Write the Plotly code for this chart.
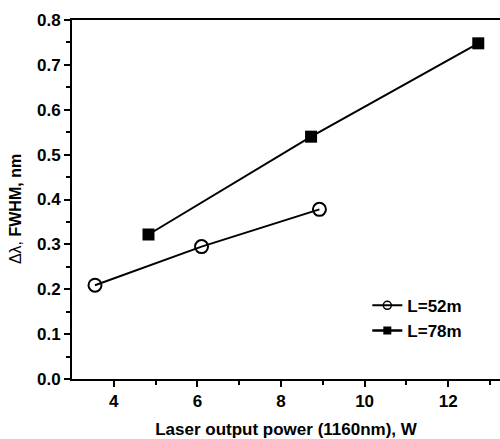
import plotly.graph_objects as go

x52 = [3.55, 6.1, 8.92]
y52 = [0.209, 0.295, 0.378]
x78 = [4.83, 8.72, 12.72]
y78 = [0.322, 0.54, 0.748]
xticks = [4, 6, 8, 10, 12]
yticks = [0.0, 0.1, 0.2, 0.3, 0.4, 0.5, 0.6, 0.7, 0.8]
names = ["L=52m", "L=78m"]

fig = go.Figure()
fig.add_trace(go.Scatter(x=x52, y=y52, mode="lines+markers", name=names[0], showlegend=False,
                         line=dict(color="black", width=2),
                         marker=dict(symbol="circle-open", size=13, color="black", line=dict(width=2))))
fig.add_trace(go.Scatter(x=x78, y=y78, mode="lines+markers", name=names[1], showlegend=False,
                         line=dict(color="black", width=2),
                         marker=dict(symbol="square", size=12, color="black")))
# legend entries with smaller symbols
fig.add_trace(go.Scatter(x=[None], y=[None], mode="lines+markers", name=names[0],
                         line=dict(color="black", width=2),
                         marker=dict(symbol="circle-open", size=8, color="black", line=dict(width=1.5))))
fig.add_trace(go.Scatter(x=[None], y=[None], mode="lines+markers", name=names[1],
                         line=dict(color="black", width=2.5),
                         marker=dict(symbol="square", size=8, color="black")))

fam = "Liberation Sans"
fig.update_layout(
    width=500, height=439,
    margin=dict(l=72, r=0, t=20, b=60),
    paper_bgcolor="white", plot_bgcolor="white",
    font=dict(family=fam, size=15, color="black"),
    showlegend=True,
    legend=dict(x=0.69, y=0.254, xanchor="left", yanchor="top", bgcolor="rgba(0,0,0,0)",
                font=dict(family=fam, size=17, color="black", weight="bold"),
                itemwidth=30, tracegroupgap=0),
    xaxis=dict(range=[3.0, 13.24], tickvals=xticks, ticktext=[str(v) for v in xticks],
               tickfont=dict(family=fam, size=17, weight="bold", color="black"),
               ticks="outside", ticklen=6, tickwidth=2, tickcolor="black",
               minor=dict(tickvals=[5, 7, 9, 11, 13], ticks="outside", ticklen=4, tickwidth=2, tickcolor="black"),
               showline=True, linecolor="black", linewidth=2, mirror=True, showgrid=False, zeroline=False,
               title=dict(text="Laser output power (1160nm), W",
                          font=dict(family=fam, size=17, weight="bold", color="black"), standoff=14)),
    yaxis=dict(range=[0.0, 0.8], tickvals=yticks, ticktext=[f"{v:.1f}" for v in yticks],
               tickfont=dict(family=fam, size=17, weight="bold", color="black"),
               ticks="outside", ticklen=6, tickwidth=2, tickcolor="black",
               minor=dict(tickvals=[0.05, 0.15, 0.25, 0.35, 0.45, 0.55, 0.65, 0.75], ticks="outside", ticklen=4, tickwidth=2, tickcolor="black"),
               showline=True, linecolor="black", linewidth=2, mirror=False, showgrid=False, zeroline=False),
    annotations=[dict(text="<span style='font-weight:normal'>Δλ,</span> FWHM, nm",
                      xref="paper", yref="paper", x=-0.133, y=0.4735, xanchor="center", yanchor="middle",
                      textangle=-90, showarrow=False,
                      font=dict(family=fam, size=16, weight="bold", color="black"))],
)
fig.write_html("out.html")
